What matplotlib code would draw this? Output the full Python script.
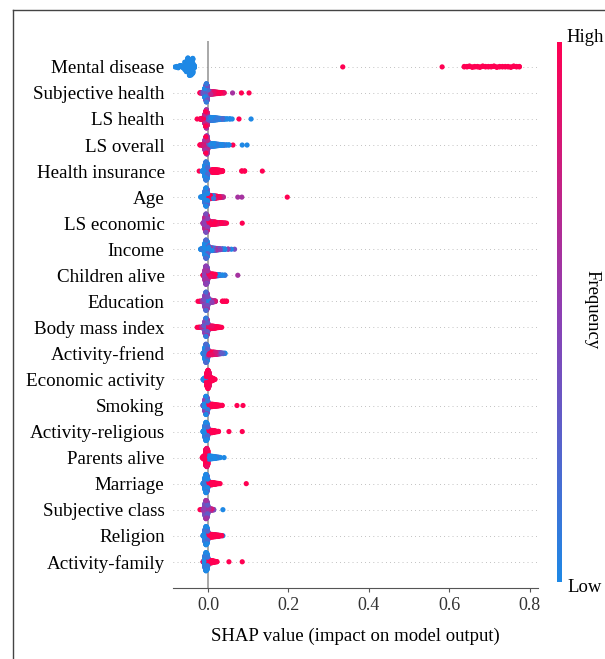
import numpy as np
import matplotlib
matplotlib.use("Agg")
import matplotlib.pyplot as plt
from matplotlib.colors import LinearSegmentedColormap
from matplotlib.lines import Line2D

plt.rcParams['font.family'] = ['Liberation Serif', 'DejaVu Serif']

# each feature: list of (shap value, number of samples, feature value 0=low .. 1=high)
mental_disease = [(-0.082, 1, 0.0), (-0.078, 2, 0.0), (-0.074, 3, 0.0), (-0.070, 3, 0.0),
                  (-0.066, 3, 0.0), (-0.062, 3, 0.0), (-0.058, 4, 0.0), (-0.054, 20, 0.0),
                  (-0.050, 20, 0.0), (-0.046, 22, 0.0), (-0.042, 20, 0.0), (-0.038, 20, 0.0),
                  (-0.034, 6, 0.0),
                  (0.335, 1, 1.0), (0.582, 1, 1.0), (0.637, 2, 1.0), (0.644, 2, 1.0),
                  (0.650, 2, 1.0), (0.657, 2, 1.0), (0.663, 2, 1.0), (0.670, 2, 1.0),
                  (0.676, 2, 1.0), (0.683, 2, 1.0), (0.690, 2, 1.0), (0.697, 2, 1.0),
                  (0.704, 2, 1.0), (0.711, 2, 1.0), (0.718, 2, 1.0), (0.725, 2, 1.0),
                  (0.732, 2, 1.0), (0.739, 2, 1.0), (0.746, 2, 1.0), (0.753, 2, 1.0),
                  (0.760, 2, 1.0), (0.767, 2, 1.0), (0.774, 2, 1.0)]
subjective_health = [(-0.020, 2, 1.0), (-0.015, 5, 0.6), (-0.011, 14, 0.3), (-0.008, 50, 0.0),
                     (-0.006, 70, 0.5), (-0.004, 100, 0.1), (-0.002, 80, 0.4), (0.000, 30, 0.2),
                     (0.003, 16, 0.6), (0.007, 15, 0.7), (0.011, 14, 0.8), (0.015, 12, 0.9),
                     (0.019, 10, 0.8), (0.023, 8, 1.0), (0.027, 6, 0.9), (0.031, 4, 1.0),
                     (0.036, 2, 1.0), (0.040, 2, 0.9), (0.061, 1, 0.6), (0.083, 1, 1.0),
                     (0.102, 1, 1.0)]
ls_health = [(-0.027, 1, 1.0), (-0.019, 3, 1.0), (-0.015, 6, 0.9), (-0.011, 14, 1.0),
             (-0.008, 50, 0.7), (-0.006, 80, 1.0), (-0.004, 100, 0.6), (-0.002, 70, 0.8),
             (0.000, 30, 0.3), (0.003, 16, 0.1), (0.007, 16, 0.0), (0.011, 15, 0.1),
             (0.015, 14, 0.0), (0.019, 12, 0.0), (0.023, 10, 0.1), (0.027, 8, 0.0),
             (0.031, 6, 0.0), (0.036, 4, 0.2), (0.041, 3, 0.0), (0.047, 2, 0.0),
             (0.054, 2, 0.0), (0.060, 1, 0.0), (0.077, 1, 1.0), (0.107, 1, 0.0)]
ls_overall = [(-0.020, 2, 1.0), (-0.014, 5, 0.9), (-0.010, 14, 0.8), (-0.007, 60, 0.6),
              (-0.005, 90, 1.0), (-0.003, 100, 0.5), (-0.001, 50, 0.7), (0.002, 16, 0.3),
              (0.006, 16, 0.0), (0.010, 15, 0.1), (0.014, 14, 0.0), (0.018, 12, 0.0),
              (0.022, 10, 0.1), (0.026, 8, 0.0), (0.030, 6, 0.0), (0.035, 4, 0.0),
              (0.040, 3, 0.1), (0.046, 2, 0.0), (0.052, 2, 0.0), (0.062, 1, 1.0),
              (0.085, 1, 0.0), (0.097, 1, 0.0)]
health_insurance = [(-0.022, 1, 1.0), (-0.014, 3, 0.0), (-0.010, 14, 0.0), (-0.007, 70, 0.0),
                    (-0.005, 100, 0.1), (-0.003, 90, 0.0), (-0.001, 40, 0.2), (0.002, 8, 0.0),
                    (0.008, 10, 1.0), (0.012, 16, 1.0), (0.016, 16, 1.0), (0.020, 15, 1.0),
                    (0.024, 13, 1.0), (0.028, 10, 1.0), (0.032, 7, 1.0), (0.036, 4, 1.0),
                    (0.084, 2, 1.0), (0.091, 2, 1.0), (0.135, 1, 1.0)]
age = [(-0.018, 2, 0.0), (-0.013, 6, 0.0), (-0.010, 16, 0.0), (-0.007, 70, 0.1),
       (-0.005, 100, 0.0), (-0.003, 90, 0.3), (-0.001, 40, 0.0), (0.002, 16, 1.0),
       (0.006, 18, 1.0), (0.010, 16, 0.0), (0.014, 15, 0.1), (0.018, 13, 0.9),
       (0.022, 10, 1.0), (0.026, 7, 0.8), (0.030, 5, 0.9), (0.034, 3, 0.6),
       (0.038, 2, 0.7), (0.074, 1, 0.6), (0.084, 1, 0.6), (0.197, 1, 1.0)]
ls_economic = [(-0.012, 5, 0.6), (-0.009, 18, 0.5), (-0.007, 70, 0.7), (-0.005, 100, 0.4),
               (-0.003, 90, 0.8), (-0.001, 50, 0.5), (0.002, 18, 1.0), (0.006, 16, 0.9),
               (0.010, 15, 1.0), (0.014, 14, 0.8), (0.018, 12, 1.0), (0.022, 9, 1.0),
               (0.026, 7, 0.9), (0.030, 5, 1.0), (0.034, 4, 1.0), (0.038, 3, 0.9),
               (0.042, 2, 1.0), (0.046, 1, 1.0), (0.085, 1, 1.0)]
income = [(-0.018, 3, 0.0), (-0.014, 8, 0.1), (-0.010, 20, 0.0), (-0.007, 70, 0.0),
          (-0.005, 100, 0.2), (-0.003, 90, 0.0), (-0.001, 50, 0.3), (0.002, 18, 0.0),
          (0.006, 16, 0.6), (0.010, 15, 0.0), (0.014, 13, 0.4), (0.018, 11, 0.0),
          (0.022, 9, 0.6), (0.026, 7, 0.0), (0.030, 5, 0.5), (0.036, 4, 0.2),
          (0.042, 3, 0.0), (0.050, 2, 0.5), (0.058, 1, 0.0), (0.066, 1, 0.4)]
children_alive = [(-0.012, 4, 1.0), (-0.009, 16, 0.5), (-0.007, 60, 0.6), (-0.005, 100, 0.5),
                  (-0.003, 90, 0.4), (-0.001, 50, 0.6), (0.002, 16, 1.0), (0.006, 15, 0.9),
                  (0.010, 14, 1.0), (0.014, 12, 0.8), (0.018, 10, 1.0), (0.022, 8, 0.3),
                  (0.026, 6, 0.0), (0.030, 4, 0.2), (0.036, 2, 0.0), (0.042, 2, 0.1),
                  (0.074, 1, 0.6)]
education = [(-0.025, 1, 1.0), (-0.020, 2, 1.0), (-0.014, 6, 0.6), (-0.010, 18, 0.4),
             (-0.007, 70, 0.5), (-0.005, 100, 0.2), (-0.003, 90, 0.6), (-0.001, 50, 0.4),
             (0.002, 16, 0.0), (0.006, 14, 0.7), (0.010, 11, 0.5), (0.014, 7, 0.6),
             (0.018, 4, 0.8), (0.036, 2, 1.0), (0.041, 2, 1.0), (0.046, 2, 1.0)]
body_mass_index = [(-0.027, 1, 1.0), (-0.022, 2, 1.0), (-0.015, 6, 0.7), (-0.010, 18, 0.3),
                   (-0.007, 70, 0.5), (-0.005, 100, 0.1), (-0.003, 90, 0.6), (-0.001, 50, 0.3),
                   (0.002, 16, 0.9), (0.006, 15, 1.0), (0.010, 14, 0.9), (0.014, 12, 1.0),
                   (0.018, 9, 1.0), (0.022, 6, 1.0), (0.026, 4, 1.0), (0.030, 2, 1.0),
                   (0.034, 1, 1.0)]
activity_friend = [(-0.012, 5, 0.0), (-0.009, 18, 0.1), (-0.007, 70, 0.0), (-0.005, 100, 0.2),
                   (-0.003, 90, 0.0), (-0.001, 50, 0.3), (0.002, 17, 0.9), (0.006, 16, 1.0),
                   (0.010, 15, 0.9), (0.014, 14, 1.0), (0.018, 12, 0.8), (0.022, 10, 1.0),
                   (0.026, 8, 0.6), (0.030, 6, 0.5), (0.034, 4, 0.3), (0.038, 3, 0.2),
                   (0.042, 2, 0.0)]
economic_activity = [(-0.012, 3, 0.0), (-0.009, 14, 0.0), (-0.006, 20, 0.0), (-0.004, 30, 1.0),
                     (-0.002, 80, 1.0), (0.000, 100, 1.0), (0.002, 80, 0.9), (0.005, 25, 1.0),
                     (0.008, 18, 1.0), (0.011, 14, 1.0), (0.014, 6, 1.0), (0.017, 2, 1.0)]
smoking = [(-0.012, 5, 0.3), (-0.009, 18, 0.0), (-0.007, 70, 0.5), (-0.005, 100, 0.0),
           (-0.003, 90, 0.4), (-0.001, 50, 0.1), (0.002, 16, 1.0), (0.006, 15, 0.9),
           (0.010, 14, 1.0), (0.014, 12, 1.0), (0.018, 9, 1.0), (0.022, 7, 1.0),
           (0.026, 5, 1.0), (0.030, 3, 1.0), (0.035, 2, 1.0), (0.072, 1, 1.0),
           (0.087, 1, 1.0)]
activity_religious = [(-0.012, 5, 0.0), (-0.009, 18, 0.0), (-0.007, 70, 0.1), (-0.005, 100, 0.0),
                      (-0.003, 90, 0.0), (-0.001, 50, 0.2), (0.002, 16, 1.0), (0.006, 15, 1.0),
                      (0.010, 13, 1.0), (0.014, 10, 1.0), (0.018, 6, 1.0), (0.022, 3, 1.0),
                      (0.026, 2, 1.0), (0.052, 1, 1.0), (0.085, 1, 1.0)]
parents_alive = [(-0.014, 3, 1.0), (-0.011, 16, 1.0), (-0.008, 24, 1.0), (-0.005, 90, 1.0),
                 (-0.003, 100, 0.9), (-0.001, 80, 1.0), (0.002, 18, 0.0), (0.006, 16, 0.0),
                 (0.010, 14, 0.1), (0.014, 12, 0.0), (0.018, 9, 0.0), (0.022, 6, 0.1),
                 (0.026, 4, 0.0), (0.030, 2, 0.0), (0.040, 1, 0.0)]
marriage = [(-0.012, 5, 0.0), (-0.009, 18, 0.1), (-0.007, 70, 0.0), (-0.005, 100, 0.0),
            (-0.003, 90, 0.2), (-0.001, 50, 0.0), (0.002, 16, 1.0), (0.006, 15, 1.0),
            (0.010, 13, 1.0), (0.014, 10, 1.0), (0.018, 7, 1.0), (0.022, 4, 1.0),
            (0.026, 2, 1.0), (0.030, 1, 1.0), (0.095, 1, 1.0)]
subjective_class = [(-0.020, 1, 1.0), (-0.016, 2, 1.0), (-0.012, 6, 0.6), (-0.009, 18, 0.5),
                    (-0.007, 70, 0.4), (-0.005, 100, 0.6), (-0.003, 90, 0.5), (-0.001, 50, 0.3),
                    (0.002, 14, 0.6), (0.006, 10, 0.5), (0.010, 6, 0.8), (0.014, 3, 0.4),
                    (0.037, 1, 0.0)]
religion = [(-0.012, 5, 0.0), (-0.009, 18, 0.0), (-0.007, 70, 0.1), (-0.005, 100, 0.0),
            (-0.003, 90, 0.0), (-0.001, 50, 0.2), (0.002, 18, 1.0), (0.006, 17, 1.0),
            (0.010, 15, 1.0), (0.014, 13, 0.9), (0.018, 11, 1.0), (0.022, 9, 0.8),
            (0.026, 7, 1.0), (0.030, 4, 0.6), (0.034, 2, 1.0), (0.037, 1, 0.0)]
activity_family = [(-0.012, 3, 1.0), (-0.009, 18, 0.0), (-0.007, 70, 0.1), (-0.005, 100, 0.0),
                   (-0.003, 90, 0.0), (-0.001, 50, 0.1), (0.002, 16, 1.0), (0.006, 15, 1.0),
                   (0.010, 12, 1.0), (0.014, 8, 1.0), (0.018, 4, 1.0), (0.022, 2, 1.0),
                   (0.052, 1, 1.0), (0.085, 1, 1.0)]

feature_names = ['Mental disease', 'Subjective health', 'LS health', 'LS overall',
                 'Health insurance', 'Age', 'LS economic', 'Income', 'Children alive',
                 'Education', 'Body mass index', 'Activity-friend', 'Economic activity',
                 'Smoking', 'Activity-religious', 'Parents alive', 'Marriage',
                 'Subjective class', 'Religion', 'Activity-family']
feature_data = [mental_disease, subjective_health, ls_health, ls_overall, health_insurance,
                age, ls_economic, income, children_alive, education, body_mass_index,
                activity_friend, economic_activity, smoking, activity_religious,
                parents_alive, marriage, subjective_class, religion, activity_family]

cmap = LinearSegmentedColormap.from_list('red_blue', ['#1E88E5', '#8E3FB3', '#FF0052'])


def beeswarm_offsets(vals, row_height=0.4, nbins=100):
    # same stacking rule as shap's summary plot
    quant = np.round(nbins * (vals - vals.min()) / (vals.max() - vals.min() + 1e-8))
    order = np.argsort(quant, kind='stable')
    ys = np.zeros(len(vals))
    layer = 0
    last_bin = -1
    for i in order:
        if quant[i] != last_bin:
            layer = 0
        ys[i] = np.ceil(layer / 2) * ((layer % 2) * 2 - 1)
        layer += 1
        last_bin = quant[i]
    ys *= 0.9 * (row_height / np.max(ys + 1))
    return ys


fig = plt.figure(figsize=(6.05, 6.59), dpi=100)
ax = fig.add_axes([0.286, 0.108, 0.603, 0.830])

n = len(feature_names)
ax.axvline(0, color='#999999', lw=1.2, zorder=-1)
for k, (name, groups) in enumerate(zip(feature_names, feature_data)):
    row = n - 1 - k
    ax.axhline(row, color='#888888', lw=0.5, dashes=(1, 5), zorder=-1)
    vals = np.concatenate([np.full(c, v) for v, c, f in groups])
    cols = np.concatenate([np.full(c, f) for v, c, f in groups])
    # fixed scramble of draw order so colours mix like in shap
    perm = np.argsort((np.arange(len(vals)) * 0.6180339887) % 1.0, kind='stable')
    vals, cols = vals[perm], cols[perm]
    ys = beeswarm_offsets(vals)
    ax.scatter(vals, row + ys, c=cols, cmap=cmap, vmin=0, vmax=1, s=14,
               linewidths=0, zorder=3)

ax.set_xlim(-0.087, 0.82)
ax.set_ylim(-1, n)
ax.set_yticks(range(n))
ax.set_yticklabels(feature_names[::-1], fontsize=13.7)
ax.set_xticks([0.0, 0.2, 0.4, 0.6, 0.8])
ax.set_xticklabels(['0.0', '0.2', '0.4', '0.6', '0.8'], fontsize=13)
ax.tick_params(axis='y', length=0, pad=6)
ax.tick_params(axis='x', length=3, color='#555555', labelcolor='#333333')
for side in ['left', 'right', 'top']:
    ax.spines[side].set_visible(False)
ax.spines['bottom'].set_color('#555555')
ax.set_xlabel('SHAP value (impact on model output)', fontsize=13.5, labelpad=10)

cax = fig.add_axes([0.921, 0.117, 0.0075, 0.819])
sm = plt.cm.ScalarMappable(cmap=cmap, norm=plt.Normalize(0, 1))
cb = fig.colorbar(sm, cax=cax, ticks=[])
cb.outline.set_visible(False)
fig.text(566 / 605, 1 - 38 / 659, 'High', fontsize=13.5, ha='left', va='center')
fig.text(567 / 605, 1 - 588 / 659, 'Low', fontsize=13.5, ha='left', va='center')
fig.text(0.978, 0.53, 'Frequency', rotation=270, fontsize=13.5, ha='center', va='center')

# page frame (left and top edges)
fig.add_artist(Line2D([13 / 605, 13 / 605], [0, 1 - 10 / 659], transform=fig.transFigure,
                      color='#444444', lw=1))
fig.add_artist(Line2D([13 / 605, 1], [1 - 10 / 659, 1 - 10 / 659], transform=fig.transFigure,
                      color='#444444', lw=1))

fig.savefig('out.png', dpi=100)
